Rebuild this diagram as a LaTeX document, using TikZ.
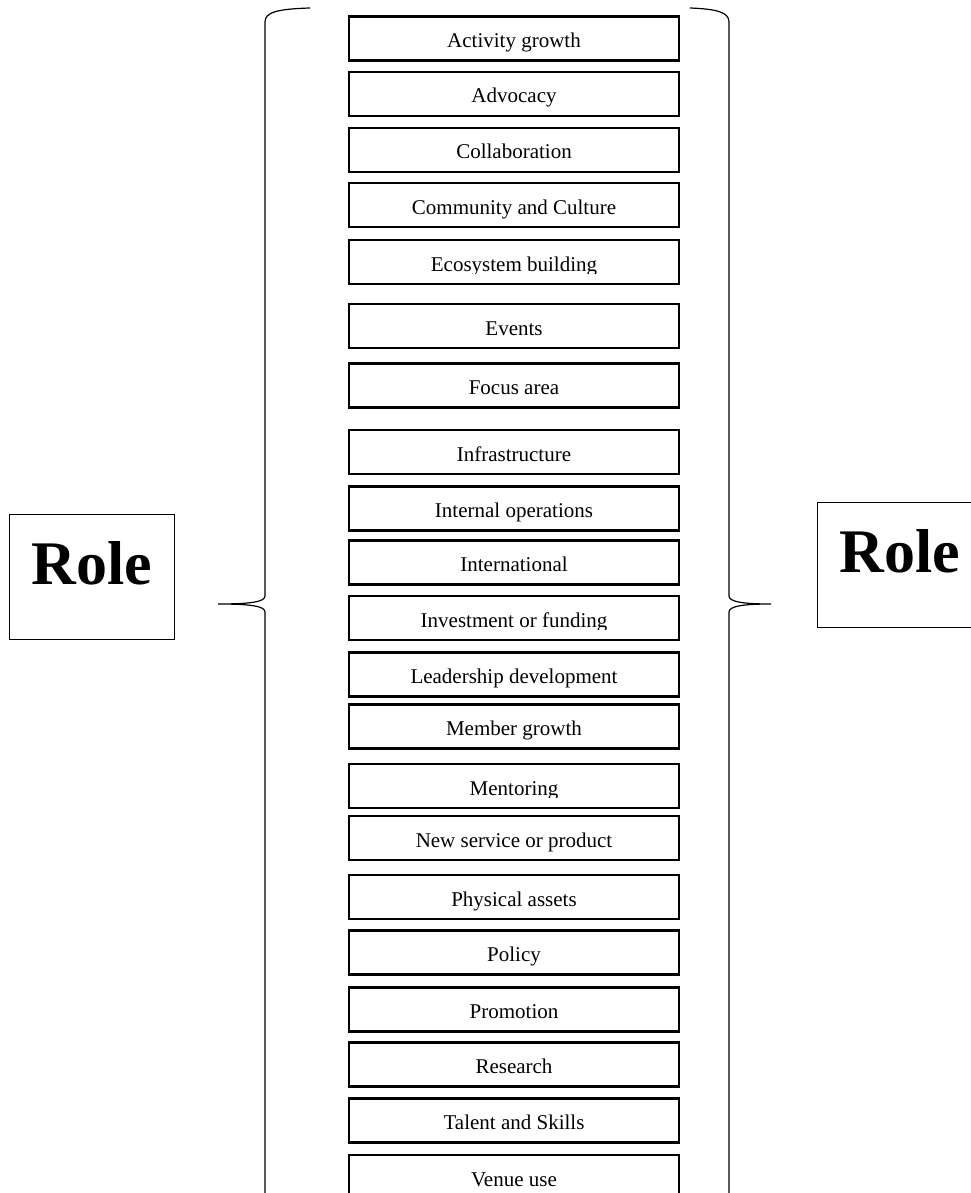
\documentclass[tikz,border=0pt]{standalone}
\usepackage{fontspec}
\setmainfont{Liberation Serif}
\begin{document}
\begin{tikzpicture}[x=1pt,y=-1pt,
  itemtext/.style={font=\fontsize{21}{25}\selectfont, text height=22pt, text depth=4pt, inner sep=0pt},
  itembox/.style={itemtext, draw=black, line width=2.2pt, rectangle,
    minimum width=330pt, minimum height=44pt},
  % box whose label is cut off a little above the lower edge
  itemclip/.style={itembox, path picture={
      \clip (path picture bounding box.north west)
        rectangle ([yshift=11pt]path picture bounding box.south east);
      \node[itemtext, draw=none] at (path picture bounding box.center) {#1};}},
  rolebox/.style={draw=black, line width=0.9pt, rectangle, inner sep=0pt,
    minimum width=165pt, minimum height=125pt,
    font=\bfseries\fontsize{62}{70}\selectfont, text height=44pt, text depth=30pt},
  bracepath/.style={draw=black, line width=1.2pt}]
\useasboundingbox (0,0) rectangle (970,1193);

% column of items
\node[itembox] (b1) at (514,38.5) {Activity growth};
\node[itembox] (b2) at (514,94) {Advocacy};
\node[itembox] (b3) at (514,150) {Collaboration};
\node[itembox] (b4) at (514,205) {Community and Culture};
\node[itemclip={Ecosystem building}] (b5) at (514,262) {};
\node[itembox] (b6) at (514,326) {Events};
\node[itembox] (b7) at (514,385.5) {Focus area};
\node[itembox] (b8) at (514,452) {Infrastructure};
\node[itembox] (b9) at (514,508.5) {Internal operations};
\node[itembox] (b10) at (514,562.5) {International};
\node[itemclip={Investment or funding}] (b11) at (514,618) {};
\node[itembox] (b12) at (514,674.5) {Leadership development};
\node[itembox] (b13) at (514,726.5) {Member growth};
\node[itemclip={Mentoring}] (b14) at (514,786) {};
\node[itembox] (b15) at (514,838) {New service or product};
\node[itembox] (b16) at (514,897) {Physical assets};
\node[itembox] (b17) at (514,952.5) {Policy};
\node[itembox] (b18) at (514,1009.5) {Promotion};
\node[itembox] (b19) at (514,1064.5) {Research};
\node[itembox] (b20) at (514,1120.5) {Talent and Skills};
\node[itembox] (b21) at (514,1177) {Venue use};

% role labels
\node[rolebox] (roleL) at (91.5,577) {Role};
\node[rolebox] (roleR) at (899.5,565) {Role};

% left brace
\draw[bracepath] (310,8) .. controls (278,9) and (265,12) .. (265,22)
  -- (265,596) .. controls (265,602) and (250,604) .. (218,604)
  .. controls (250,604) and (265,606) .. (265,612)
  -- (265,1196) .. controls (265,1206) and (278,1209) .. (310,1210);

% right brace
\draw[bracepath] (690,8) .. controls (716,9) and (729,12) .. (729,22)
  -- (729,596) .. controls (729,602) and (744,604) .. (771,604)
  .. controls (744,604) and (729,606) .. (729,612)
  -- (729,1196) .. controls (729,1206) and (716,1209) .. (690,1210);
\end{tikzpicture}
\end{document}
